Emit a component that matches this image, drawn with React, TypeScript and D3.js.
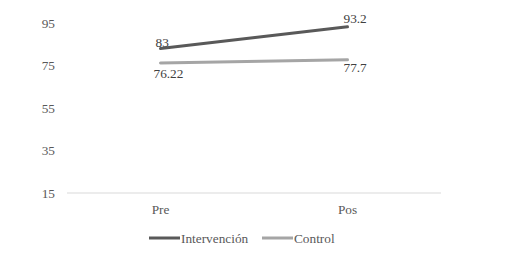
import React from "react";
import * as d3 from "d3";

const categories = ["Pre", "Pos"];
const intervencion = [83, 93.2];
const control = [76.22, 77.7];
const intervencionLabels = ["83", "93.2"];
const controlLabels = ["76.22", "77.7"];
const yTicks = [15, 35, 55, 75, 95];
const seriesNames = ["Intervención", "Control"];

const W = 506;
const H = 255;
const FONT = "\"Liberation Serif\"";

export default function App() {
  const x = d3.scaleBand<string>().domain(categories).range([67, 441]);
  const y = d3.scaleLinear().domain([15, 95]).range([193, 23]);
  const cx = (c: string) => (x(c) ?? 0) + x.bandwidth() / 2;
  const line = d3
    .line<number>()
    .x((_, i) => cx(categories[i]))
    .y((d) => y(d));

  const series = [
    { name: seriesNames[0], values: intervencion, labels: intervencionLabels, color: "#595959", dy: [-6, -8], dx: [-5, -4] },
    { name: seriesNames[1], values: control, labels: controlLabels, color: "#a5a5a5", dy: [10, 8], dx: [-7, -4] },
  ];

  const txt = { fontFamily: FONT, fontSize: "13.3px" };

  return (
    <svg width={W} height={H} style={{ position: "absolute", left: 0, top: 0 }}>
      <rect width={W} height={H} fill="#fff" />
      {yTicks.map((t) => (
        <text key={t} x={55} y={y(t)} dy="0.35em" textAnchor="end" style={txt} fill="#595959">
          {t}
        </text>
      ))}
      <line x1={67} x2={441} y1={y(15)} y2={y(15)} stroke="#d9d9d9" strokeWidth={1} />
      {categories.map((c) => (
        <text key={c} x={cx(c)} y={209} dy="0.35em" textAnchor="middle" style={txt} fill="#595959">
          {c}
        </text>
      ))}
      {series.map((s) => (
        <path key={s.name} d={line(s.values) ?? ""} fill="none" stroke={s.color} strokeWidth={3} strokeLinecap="round" />
      ))}
      {series.map((s) =>
        s.values.map((v, i) => (
          <text
            key={s.name + i}
            x={cx(categories[i]) + s.dx[i]}
            y={y(v) + s.dy[i]}
            dy="0.35em"
            style={txt}
            fill="#404040"
          >
            {s.labels[i]}
          </text>
        ))
      )}
      {series.map((s, i) => {
        const lx = i === 0 ? 149 : 262;
        return (
          <g key={"lg" + i}>
            <line x1={lx} x2={lx + 31} y1={238} y2={238} stroke={s.color} strokeWidth={3} />
            <text x={lx + 32} y={238} dy="0.35em" style={txt} fill="#595959">
              {s.name}
            </text>
          </g>
        );
      })}
    </svg>
  );
}
